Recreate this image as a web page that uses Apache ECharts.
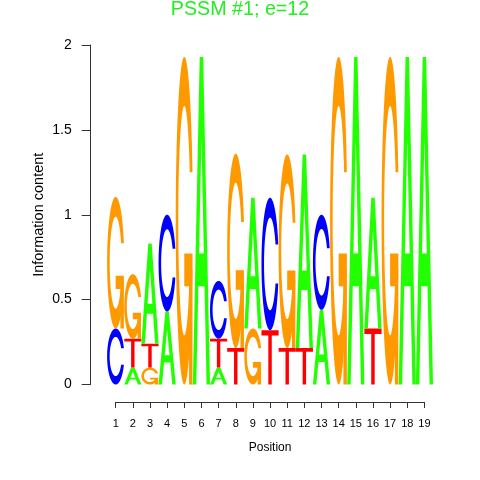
<!DOCTYPE html>
<html>
<head>
<meta charset="utf-8">
<script src="https://cdn.jsdelivr.net/npm/echarts@6/dist/echarts.min.js"></script>
<style>html,body{margin:0;padding:0;background:#fff}#c{width:480px;height:480px}</style>
</head>
<body>
<div id="c"></div>
<script>
// Positions (tick labels)
const positions = ['1','2','3','4','5','6','7','8','9','10','11','12','13','14','15','16','17','18','19'];
// Information content of each nucleotide per position (bits)
const heightA = [0,    0.10, 0.59, 0.43, 0,    1.93, 0.10, 0,    0.77, 0,    0,    1.14, 0.44, 0,    1.93, 0.77, 0,    1.93, 1.93];
const heightC = [0.33, 0,    0,    0.57, 0,    0,    0.34, 0,    0,    0.78, 0,    0,    0.56, 0,    0,    0,    0,    0,    0   ];
const heightG = [0.775,0.38, 0.10, 0,    1.93, 0,    0,    1.145,0.33, 0,    1.14, 0,    0,    1.93, 0,    0,    1.93, 0,    0   ];
const heightT = [0,    0.17, 0.14, 0,    0,    0,    0.17, 0.215,0,    0.32, 0.215,0.215,0,    0,    0,    0.33, 0,    0,    0   ];
const yTicks = [0, 0.5, 1, 1.5, 2];

const letters = ['A','C','G','T'];
const heights = {A: heightA, C: heightC, G: heightG, T: heightT};
const colors = {A: '#22FF00', C: '#0000FF', G: '#FF9900', T: '#FF0000'};

// glyph outlines in unit box (x right, y up), seqLogo style
function seq(a, b, n) { const r = []; for (let i = 0; i < n; i++) r.push(a + (b - a) * i / (n - 1)); return r; }
function cShape() {
  const a1 = seq(0.3 + Math.PI / 2, Math.PI, 100), a2 = seq(Math.PI, 1.5 * Math.PI, 100);
  const xl1 = a1.map(a => 0.5 + 0.5 * Math.sin(a)), yl1 = a1.map(a => 0.5 + 0.5 * Math.cos(a));
  const xl2 = a2.map(a => 0.5 + 0.5 * Math.sin(a)), yl2 = a2.map(a => 0.5 + 0.5 * Math.cos(a));
  const xl = xl1.concat(xl2), yl = yl1.concat(yl2);
  const x = xl.concat(xl.slice().reverse()), y = yl.concat(yl.slice().reverse().map(v => 1 - v));
  const maxY = Math.max(...yl1);
  let xi1 = a1.map(a => 0.5 + 0.35 * Math.sin(a)), yi1 = a1.map(a => 0.5 + 0.35 * Math.cos(a));
  const keep = yi1.map(v => v <= maxY);
  xi1 = xi1.filter((v, i) => keep[i]); yi1 = yi1.filter((v, i) => keep[i]);
  yi1[0] = maxY;
  const xi2 = a2.map(a => 0.5 + 0.35 * Math.sin(a)), yi2 = a2.map(a => 0.5 + 0.35 * Math.cos(a));
  const xi = xi1.concat(xi2), yi = yi1.concat(yi2);
  const x1 = xi.concat(xi.slice().reverse()), y1 = yi.concat(yi.slice().reverse().map(v => 1 - v));
  const X = x.concat(x1.slice().reverse()), Y = y.concat(y1.slice().reverse());
  return {pts: X.map((v, i) => [v, Y[i]]), r1: Math.max(...xl1)};
}
const C = cShape();
const glyphs = {
  A: [{pts: [[0,0],[4,10],[6,10],[10,0],[8,0],[6.8,3],[3.2,3],[2,0]].map(p => [p[0]/10, p[1]/10])},
      {pts: [[3.6,4],[5,7.5],[6.4,4]].map(p => [p[0]/10, p[1]/10]), hole: true}],
  C: [{pts: C.pts}],
  G: [{pts: C.pts},
      {pts: [[C.r1,0.4],[0.5,0.4],[0.5,0.3],[C.r1-0.2,0.3],[C.r1-0.2,0],[C.r1,0],[C.r1,0.4]]}],
  T: [{pts: [[0,10],[10,10],[10,9],[6,9],[6,0],[4,0],[4,9],[0,9]].map(p => [p[0]/10, p[1]/10])}]
};

// stack letters per position, smallest at bottom
const items = [];
positions.forEach((p, i) => {
  const pos = Number(p);
  const list = letters.map(l => ({l, h: heights[l][i]})).filter(d => d.h > 0).sort((a, b) => a.h - b.h);
  let base = 0;
  list.forEach(d => { items.push([pos, base, base + d.h, letters.indexOf(d.l)]); base += d.h; });
});

function renderItem(params, api) {
  const pos = api.value(0), y0 = api.value(1), y1 = api.value(2), li = api.value(3);
  const l = letters[li];
  const pa = api.coord([pos - 0.5, y0]), pb = api.coord([pos + 0.5, y1]);
  const x0 = pa[0], w = pb[0] - pa[0], yb = pa[1], h = pa[1] - pb[1];
  const children = glyphs[l].map(g => ({
    type: 'polygon',
    shape: {points: g.pts.map(q => [x0 + q[0] * w, yb - q[1] * h])},
    style: {fill: g.hole ? '#fff' : colors[l], stroke: null}
  }));
  return {type: 'group', children};
}

const chart = echarts.init(document.getElementById('c'), null, {renderer: 'canvas'});
chart.setOption({
  animation: false,
  backgroundColor: '#fff',
  title: {text: 'PSSM #1; e=12', left: 'center', top: 0, padding: 0,
    textStyle: {fontFamily: 'Liberation Sans', fontSize: 19.7, fontWeight: 'normal', color: '#22EE22'}},
  grid: [
    {left: 107.1, right: 47, top: 45, height: 339.5},
    {left: 115.7, width: 308.7, top: 392, height: 10}
  ],
  xAxis: [
    {gridIndex: 0, type: 'value', min: 0.5, max: 19.5, show: false},
    {gridIndex: 1, type: 'category', data: positions, boundaryGap: false,
      axisLine: {lineStyle: {color: '#333', width: 1}},
      axisTick: {length: 6, lineStyle: {color: '#333'}},
      axisLabel: {fontFamily: 'Liberation Sans', fontSize: 11, color: '#000', margin: 16, interval: 0},
      name: 'Position', nameLocation: 'middle', nameGap: 40,
      nameTextStyle: {fontFamily: 'Liberation Sans', fontSize: 12, color: '#000'}}
  ],
  yAxis: [
    {gridIndex: 0, type: 'value', min: yTicks[0], max: yTicks[yTicks.length - 1], interval: 0.5, offset: 16.4,
      axisLine: {show: true, lineStyle: {color: '#333', width: 1}},
      axisTick: {show: true, length: 9, lineStyle: {color: '#333'}},
      axisLabel: {fontFamily: 'Liberation Sans', fontSize: 14, color: '#000', margin: 19},
      splitLine: {show: false},
      name: 'Information content', nameLocation: 'middle', nameGap: 44, nameMoveOverlap: false,
      nameTextStyle: {fontFamily: 'Liberation Sans', fontSize: 14.5, color: '#000'}},
    {gridIndex: 1, type: 'value', show: false}
  ],
  series: [{
    type: 'custom', xAxisIndex: 0, yAxisIndex: 0, renderItem, data: items, clip: false
  }]
});
</script>
</body>
</html>
